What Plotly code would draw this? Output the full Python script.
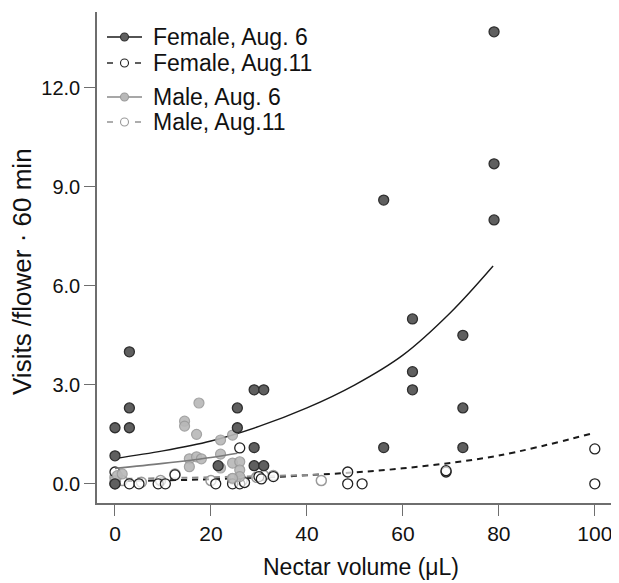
import plotly.graph_objects as go

# ---- data ----
female_aug6_x = [0, 0, 0, 3, 3, 3, 21.5, 25.5, 25.5, 29, 31, 29, 29, 31, 56, 56, 62, 62, 62, 72.5, 72.5, 72.5, 79, 79, 79]
female_aug6_y = [0.0, 0.85, 1.7, 4.0, 2.3, 1.7, 0.55, 2.3, 1.7, 2.85, 2.85, 1.1, 0.55, 0.55, 8.6, 1.1, 5.0, 3.4, 2.85, 4.5, 2.3, 1.1, 13.7, 9.7, 8.0]

male_aug6_x = [0, 0.5, 1.5, 14.5, 14.5, 17.5, 17, 22, 24.5, 15.5, 15.5, 17, 18, 22, 22, 24.5, 26, 26, 26, 24.5]
male_aug6_y = [0.1, 0.25, 0.3, 1.9, 1.75, 2.45, 1.5, 1.33, 1.48, 0.76, 0.52, 0.82, 0.76, 0.9, 0.48, 0.63, 0.67, 0.42, 0.22, 0.17]

male_aug11_x = [0, 1.5, 5.5, 9.5, 12.5, 20, 24.5, 26.5, 29.5, 31, 33, 43]
male_aug11_y = [0.2, 0.1, 0.05, 0.1, 0.3, 0.1, 0.15, 0.1, 0.2, 0.25, 0.25, 0.1]

female_aug11_x = [0, 0, 3, 5, 9, 10.5, 12.5, 21, 24.5, 26, 26, 27, 30, 30.5, 33, 48.5, 48.5, 51.5, 69, 69, 100, 100]
female_aug11_y = [0.36, 0.0, 0.0, 0.0, 0.0, 0.0, 0.27, 0.0, 0.0, 0.0, 1.09, 0.04, 0.22, 0.15, 0.22, 0.36, 0.0, 0.0, 0.36, 0.4, 1.06, 0.0]

# fitted curves
fit_f6_x = [0, 10, 20, 30, 40, 50, 60, 70, 78.8]
fit_f6_y = [0.77, 1.0, 1.3, 1.74, 2.3, 3.0, 3.9, 5.2, 6.6]
fit_f11_x = [0, 20, 40, 60, 80, 100]
fit_f11_y = [0.08, 0.14, 0.26, 0.47, 0.86, 1.55]
fit_m6_x = [0, 10, 20, 25.5]
fit_m6_y = [0.47, 0.62, 0.8, 0.93]
fit_m11_x = [0, 20, 43]
fit_m11_y = [0.15, 0.2, 0.28]

x_ticks = [0, 20, 40, 60, 80, 100]
y_ticks = [0, 3, 6, 9, 12]
y_tick_labels = ["0.0", "3.0", "6.0", "9.0", "12.0"]

names = ["Female, Aug. 6", "Female, Aug.11", "Male, Aug. 6", "Male, Aug.11"]

DARK_FILL = "#5f5f5f"
DARK_EDGE = "#2e2e2e"
LIGHT_FILL = "#b8b8b8"
LIGHT_EDGE = "#9a9a9a"
BLACK_LINE = "#1a1a1a"
GRAY_LINE = "#8a8a8a"
MS = 10

# the page body adds an 8px offset, so the figure is sized to the remaining window
OFF = 8
W, H = 619 - OFF, 583 - OFF
ML, MR, MT, MB = 97 - OFF, 5, 12 - OFF, 80
PW, PH = W - ML - MR, H - MT - MB


def px_x(p):
    # reference (window) pixel -> paper coordinate
    return (p - OFF - ML) / PW


def px_y(p):
    return (H - MB - (p - OFF)) / PH


fig = go.Figure()

# curves
fig.add_trace(go.Scatter(x=fit_f6_x, y=fit_f6_y, mode="lines", line=dict(color=BLACK_LINE, width=1.4, shape="spline"), showlegend=False))
fig.add_trace(go.Scatter(x=fit_f11_x, y=fit_f11_y, mode="lines", line=dict(color=BLACK_LINE, width=2, dash="6px,5px", shape="spline"), showlegend=False))
fig.add_trace(go.Scatter(x=fit_m11_x, y=fit_m11_y, mode="lines", line=dict(color=GRAY_LINE, width=2, dash="6px,5px", shape="spline"), showlegend=False))

# points
fig.add_trace(go.Scatter(x=male_aug11_x, y=male_aug11_y, mode="markers", name=names[3],
                         marker=dict(size=MS, color="rgba(255,255,255,0.6)", line=dict(color=LIGHT_EDGE, width=1.5)), showlegend=False))
fig.add_trace(go.Scatter(x=female_aug11_x, y=female_aug11_y, mode="markers", name=names[1],
                         marker=dict(size=MS, color="rgba(255,255,255,0.7)", line=dict(color="#222222", width=1.3)), showlegend=False))
fig.add_trace(go.Scatter(x=male_aug6_x, y=male_aug6_y, mode="markers", name=names[2],
                         marker=dict(size=MS, color=LIGHT_FILL, line=dict(color=LIGHT_EDGE, width=1.2), opacity=0.9), showlegend=False))
fig.add_trace(go.Scatter(x=fit_m6_x, y=fit_m6_y, mode="lines", line=dict(color="#7a7a7a", width=1.6, shape="spline"), showlegend=False))
fig.add_trace(go.Scatter(x=female_aug6_x, y=female_aug6_y, mode="markers", name=names[0],
                         marker=dict(size=MS, color=DARK_FILL, line=dict(color=DARK_EDGE, width=1.3)), showlegend=False))

# ---- hand-drawn legend (rows in pixel positions) ----
row_py = [37, 63, 97, 122]
leg_line_col = [BLACK_LINE, BLACK_LINE, GRAY_LINE, GRAY_LINE]
leg_dashed = [False, True, False, True]
leg_fill = [DARK_FILL, "white", LIGHT_FILL, "white"]
leg_edge = [DARK_EDGE, "#222222", LIGHT_EDGE, LIGHT_EDGE]
shapes = []
annotations = []
for nm, py, lc, dsh, fc, ec in zip(names, row_py, leg_line_col, leg_dashed, leg_fill, leg_edge):
    yy = px_y(py)
    if dsh:
        for a, b in [(107, 113), (135, 141)]:
            shapes.append(dict(type="line", xref="paper", yref="paper", x0=px_x(a), x1=px_x(b), y0=yy, y1=yy,
                               line=dict(color=lc, width=1.4)))
    else:
        shapes.append(dict(type="line", xref="paper", yref="paper", x0=px_x(107), x1=px_x(142), y0=yy, y1=yy,
                           line=dict(color=lc, width=1.4)))
    shapes.append(dict(type="circle", xref="paper", yref="paper", xsizemode="pixel", ysizemode="pixel",
                       xanchor=px_x(124.5), yanchor=yy, x0=-4, x1=4, y0=-4, y1=4,
                       fillcolor=fc, line=dict(color=ec, width=1.1)))
    annotations.append(dict(text=nm, xref="paper", yref="paper", x=px_x(151), y=yy, xanchor="left", yanchor="middle",
                            showarrow=False, font=dict(size=23, color="#111")))

# axis titles
annotations.append(dict(text="Nectar volume (μL)", xref="paper", yref="paper", x=px_x(361), y=px_y(567),
                        xanchor="center", yanchor="middle", showarrow=False, font=dict(size=23, color="#111")))
annotations.append(dict(text="Visits /flower · 60 min", xref="paper", yref="paper", x=px_x(22), y=px_y(272),
                        xanchor="center", yanchor="middle", textangle=-90, showarrow=False,
                        font=dict(size=26, color="#111")))

axis_color = "#6e6e6e"
fig.update_layout(
    width=W, height=H,
    margin=dict(l=ML, r=MR, t=MT, b=MB, autoexpand=False),
    paper_bgcolor="white", plot_bgcolor="white",
    font=dict(family="Liberation Sans, Arial, sans-serif", color="#1a1a1a"),
    showlegend=False,
    shapes=shapes,
    annotations=annotations,
    xaxis=dict(range=[-3.75, 104], tickvals=x_ticks, ticktext=[str(v) for v in x_ticks],
               showgrid=False, zeroline=False, showline=True, linecolor=axis_color, linewidth=1.5,
               ticks="outside", ticklen=11, tickcolor=axis_color, tickwidth=1.2, automargin=False,
               tickfont=dict(size=21, color="#111")),
    yaxis=dict(range=[-0.58, 14.3], tickvals=y_ticks, ticktext=y_tick_labels,
               showgrid=False, zeroline=False, showline=True, linecolor=axis_color, linewidth=1.5,
               ticks="outside", ticklen=11, tickcolor=axis_color, tickwidth=1.2, automargin=False,
               tickfont=dict(size=20, color="#111")),
)

fig.write_html("out.html")
